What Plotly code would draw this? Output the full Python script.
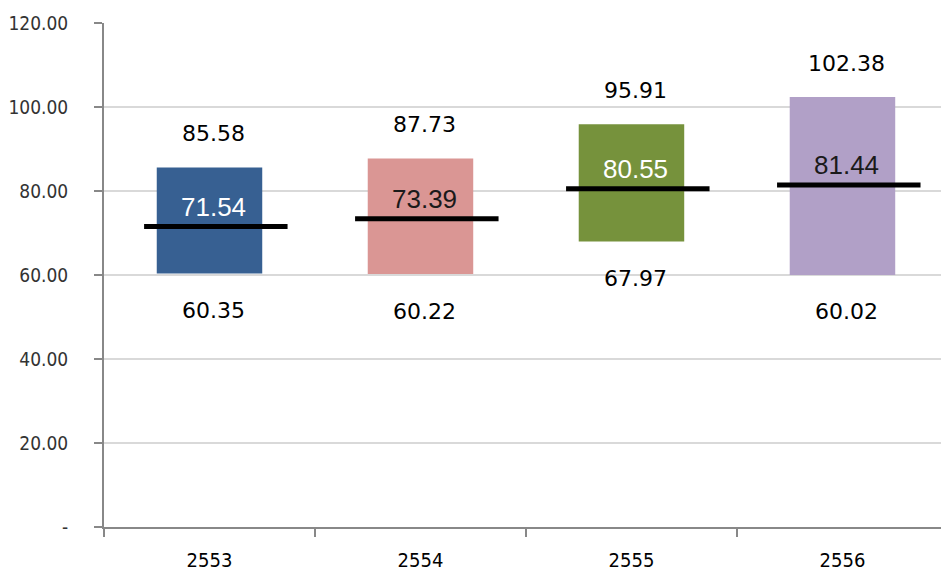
import plotly.graph_objects as go

years = ["2553", "2554", "2555", "2556"]
min_vals = [60.35, 60.22, 67.97, 60.02]
max_vals = [85.58, 87.73, 95.91, 102.38]
avg_vals = [71.54, 73.39, 80.55, 81.44]
bar_colors = ["#376092", "#DA9694", "#76923C", "#B1A0C7"]
avg_label_colors = ["#FFFFFF", "#1A1A1A", "#FFFFFF", "#1A1A1A"]
y_ticks = [0, 20, 40, 60, 80, 100, 120]
y_ticktext = ["-" if v == 0 else f"{v:.2f}" for v in y_ticks]

xs = list(range(len(years)))

fig = go.Figure()

fig.add_trace(go.Bar(
    x=xs,
    y=[mx - mn for mx, mn in zip(max_vals, min_vals)],
    base=min_vals,
    width=0.5,
    marker=dict(color=bar_colors, line=dict(width=0)),
    showlegend=False,
    hoverinfo="skip",
))

half = 0.34
off = 0.03
for i, a in enumerate(avg_vals):
    fig.add_trace(go.Scatter(
        x=[i - half + off, i + half + off],
        y=[a, a],
        mode="lines",
        line=dict(color="#000000", width=5),
        showlegend=False,
        hoverinfo="skip",
    ))

annotations = []
for i in xs:
    annotations.append(dict(
        x=i, y=max_vals[i], xref="x", yref="y", text=f"{max_vals[i]:.2f}",
        showarrow=False, yshift=34, xshift=4,
        font=dict(family="DejaVu Sans", size=22, color="#000000"),
    ))
    annotations.append(dict(
        x=i, y=min_vals[i], xref="x", yref="y", text=f"{min_vals[i]:.2f}",
        showarrow=False, yshift=-37, xshift=4,
        font=dict(family="DejaVu Sans", size=22, color="#000000"),
    ))
    annotations.append(dict(
        x=i, y=avg_vals[i], xref="x", yref="y", text=f"{avg_vals[i]:.2f}",
        showarrow=False, yshift=20, xshift=4,
        font=dict(family="Liberation Sans, Arial", size=26, color=avg_label_colors[i]),
    ))

fig.update_layout(
    width=941, height=574,
    margin=dict(l=104, r=0, t=23, b=47),
    plot_bgcolor="white", paper_bgcolor="white",
    annotations=annotations,
    xaxis=dict(
        range=[-0.5, 3.467],
        automargin=False,
        tickmode="array", tickvals=xs, ticktext=years,
        ticks="", showgrid=False, zeroline=False,
        showline=True, linecolor="#888888", linewidth=2,
        tickfont=dict(family="DejaVu Sans Condensed", size=20, color="#000000"),
        ticklabelstandoff=14,
        minor=dict(tickmode="array", tickvals=[-0.5, 0.5, 1.5, 2.5],
                   ticks="outside", ticklen=8, tickcolor="#888888", tickwidth=1.5,
                   showgrid=False),
    ),
    yaxis=dict(
        range=[0, 120],
        automargin=False,
        tickmode="array", tickvals=y_ticks, ticktext=y_ticktext,
        ticks="outside", ticklen=8, tickcolor="#888888", tickwidth=1.5,
        showgrid=True, gridcolor="#D9D9D9", gridwidth=1.5,
        zeroline=False,
        showline=True, linecolor="#888888", linewidth=2,
        tickfont=dict(family="DejaVu Sans Condensed", size=19, color="#333333"),
        ticklabelstandoff=22,
    ),
)

fig.write_html("out.html")
